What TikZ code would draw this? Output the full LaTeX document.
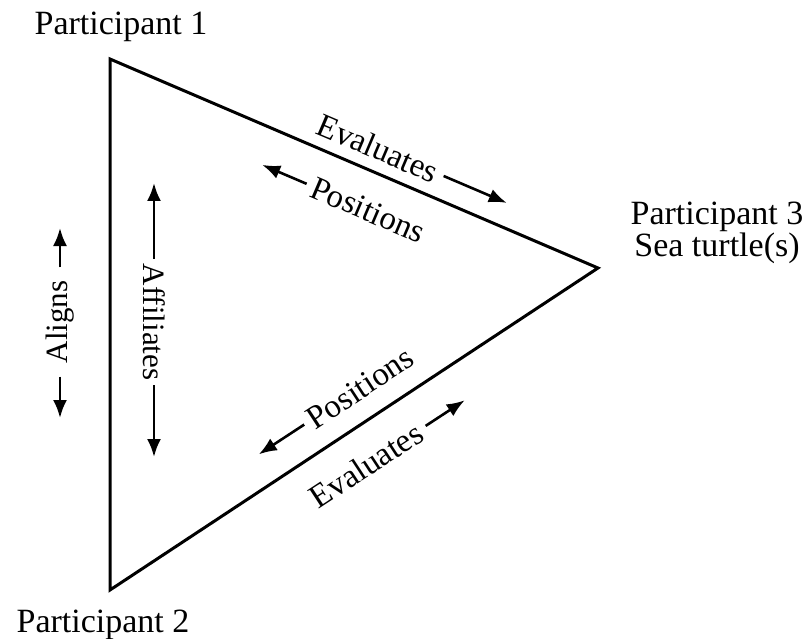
\documentclass[tikz,border=0pt]{standalone}
\usepackage{fontspec}
\setmainfont{Liberation Serif}
\usetikzlibrary{arrows.meta}
\begin{document}
\begin{tikzpicture}[x=1pt,y=1pt,
  lbl/.style={font=\fontsize{34}{28}\selectfont, inner sep=0pt},
  edgelbl/.style={font=\fontsize{33}{36}\selectfont, inner sep=0pt, transform shape},
  sidelbl/.style={font=\fontsize{31}{36}\selectfont, inner sep=0pt, transform shape},
  arr/.style={line width=2.6pt, -{Latex[length=18pt,width=14pt]}},
  tri/.style={line width=3pt, line join=miter}]
\useasboundingbox (0,0) rectangle (808,-639);
% triangle
\coordinate (v1) at (110,-59);
\coordinate (v3) at (598,-268);
\coordinate (v2) at (110,-590);
\draw[tri] (v1) -- (v3) -- (v2) -- cycle;
% participant labels
\node[lbl, anchor=base] (p1) at (121,-35) {Participant 1};
\node[lbl, anchor=base] (p2) at (103,-632) {Participant 2};
\node[lbl, anchor=base, align=center] (p3) at (717,-256) {Participant 3\\Sea turtle(s)};
% top edge labels
\begin{scope}[shift={(378,-148)}, rotate=-23.1]
  \node[edgelbl] (ev1) {Evaluates};
  \coordinate (ev1tip) at (140,0);
  \draw[arr] ([xshift=7pt]ev1.east) -- (ev1tip);
\end{scope}
\begin{scope}[shift={(368,-210)}, rotate=-23.1]
  \node[edgelbl] (po1) {Positions};
  \coordinate (po1tip) at (-115,0);
  \draw[arr] ([xshift=-6pt]po1.west) -- (po1tip);
\end{scope}
% bottom edge labels
\begin{scope}[shift={(360,-388)}, rotate=33.25]
  \node[edgelbl] (po2) {Positions};
  \coordinate (po2tip) at (-121,0);
  \draw[arr] ([xshift=-6pt]po2.west) -- (po2tip);
\end{scope}
\begin{scope}[shift={(366,-465)}, rotate=33.25]
  \node[edgelbl] (ev2) {Evaluates};
  \coordinate (ev2tip) at (118,0);
  \draw[arr] ([xshift=7pt]ev2.east) -- (ev2tip);
\end{scope}
% vertical labels
\begin{scope}[shift={(60,-322)}, rotate=90]
  \node[sidelbl] (al) {Aligns};
  \coordinate (altip1) at (-96,0);
  \coordinate (altip2) at (94,0);
  \draw[arr] ([xshift=-13pt]al.west) -- (altip1);
  \draw[arr] ([xshift=13pt]al.east) -- (altip2);
\end{scope}
\begin{scope}[shift={(154,-322)}, rotate=-90]
  \node[sidelbl] (af) {Affiliates};
  \coordinate (aftip1) at (-139,0);
  \coordinate (aftip2) at (135,0);
  \draw[arr] ([xshift=-5pt]af.west) -- (aftip1);
  \draw[arr] ([xshift=5pt]af.east) -- (aftip2);
\end{scope}
\end{tikzpicture}
\end{document}
